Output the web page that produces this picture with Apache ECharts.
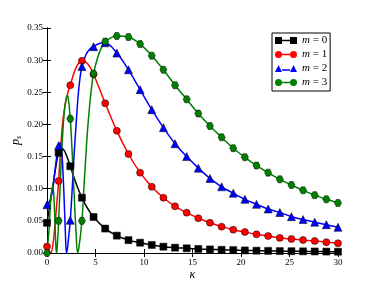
<!DOCTYPE html>
<html>
<head>
<meta charset="utf-8">
<script src="https://cdn.jsdelivr.net/npm/echarts@6/dist/echarts.min.js"></script>
<style>html,body{margin:0;padding:0;background:#fff;}#c{width:376px;height:282px;}</style>
</head>
<body>
<div id="c"></div>
<script>
// Marker positions (kappa)
var markerK = [0, 1.2, 2.4, 3.6, 4.8, 6.0, 7.2, 8.4, 9.6, 10.8, 12.0, 13.2, 14.4, 15.6, 16.8, 18.0, 19.2, 20.4, 21.6, 22.8, 24.0, 25.2, 26.4, 27.6, 28.8, 30.0];
// Marker values
var m0Marks = [0.047, 0.156, 0.135, 0.086, 0.056, 0.038, 0.027, 0.020, 0.016, 0.0125, 0.0098, 0.0083, 0.0073, 0.0063, 0.0056, 0.0050, 0.0045, 0.0040, 0.0036, 0.0033, 0.0030, 0.0028, 0.0026, 0.0024, 0.0022, 0.0020];
var m1Marks = [0.010, 0.112, 0.261, 0.299, 0.278, 0.233, 0.190, 0.154, 0.125, 0.103, 0.086, 0.0726, 0.0628, 0.054, 0.047, 0.041, 0.0363, 0.0327, 0.029, 0.0264, 0.0235, 0.0218, 0.0202, 0.0187, 0.0168, 0.0152];
var m2Marks = [0.075, 0.167, 0.051, 0.290, 0.321, 0.327, 0.311, 0.285, 0.254, 0.223, 0.195, 0.170, 0.150, 0.132, 0.116, 0.103, 0.093, 0.0835, 0.0757, 0.0684, 0.063, 0.0565, 0.052, 0.048, 0.044, 0.040];
var m3Marks = [0.000, 0.050, 0.209, 0.050, 0.279, 0.329, 0.3375, 0.336, 0.325, 0.307, 0.285, 0.261, 0.239, 0.217, 0.1975, 0.180, 0.163, 0.149, 0.136, 0.125, 0.1146, 0.1058, 0.0975, 0.090, 0.0835, 0.0778];
// Curve detail at small kappa (oscillating region)
var m0Fine = [[0,0.047],[0.3,0.075],[0.6,0.104],[0.9,0.133],[1.2,0.156],[1.5,0.163],[1.8,0.159],[2.1,0.148],[2.4,0.135],[3.0,0.108],[3.6,0.086],[4.2,0.069],[4.8,0.056]];
var m1Fine = [[0,0.010],[0.2,0.004],[0.4,0.0],[0.6,0.012],[0.8,0.040],[1.0,0.075],[1.2,0.112],[1.4,0.162],[1.6,0.200],[1.8,0.224],[2.0,0.240],[2.2,0.252],[2.4,0.261],[2.8,0.281],[3.2,0.294],[3.6,0.299],[4.0,0.297],[4.4,0.290],[4.8,0.278]];
var m2Fine = [[0,0.075],[0.2,0.079],[0.4,0.086],[0.6,0.100],[0.8,0.125],[1.0,0.150],[1.2,0.167],[1.35,0.171],[1.5,0.162],[1.65,0.125],[1.8,0.070],[1.9,0.030],[2.0,0.0],[2.1,0.006],[2.2,0.020],[2.4,0.051],[2.6,0.100],[2.8,0.155],[3.0,0.200],[3.2,0.243],[3.4,0.272],[3.6,0.290],[4.0,0.308],[4.4,0.317],[4.8,0.321],[5.4,0.326]];
var m3Fine = [[0,0.0],[0.2,0.035],[0.4,0.085],[0.6,0.105],[0.75,0.075],[0.9,0.015],[0.97,0.0],[1.05,0.008],[1.2,0.050],[1.4,0.120],[1.6,0.180],[1.8,0.222],[2.0,0.242],[2.1,0.245],[2.2,0.240],[2.4,0.209],[2.6,0.155],[2.8,0.090],[3.0,0.030],[3.15,0.0],[3.3,0.010],[3.6,0.050],[3.8,0.100],[4.0,0.150],[4.2,0.195],[4.5,0.245],[4.8,0.279],[5.2,0.303],[5.6,0.319]];
var xTicks = [0, 5, 10, 15, 20, 25, 30];
var yTicks = [0, 0.05, 0.10, 0.15, 0.20, 0.25, 0.30, 0.35];
var names = ['m0', 'm1', 'm2', 'm3'];
var labels = {m0: '{i|m} = 0', m1: '{i|m} = 1', m2: '{i|m} = 2', m3: '{i|m} = 3'};
var colors = ['#000000', '#ff0000', '#0000ff', '#008000'];
var symbols = ['rect', 'circle', 'triangle', 'path://M2,0L6,0L8,3.5L6,7L2,7L0,3.5Z'];
var symSizes = [7, 7, 8, 7];
var icons = [
  'path://M0,0h7v7h-7zM7,2.8h8v1.4h-8zM15,0h7v7h-7z',
  'path://M0,3.5a3.5,3.5 0 1,0 7,0a3.5,3.5 0 1,0 -7,0zM7,2.8h8v1.4h-8zM15,3.5a3.5,3.5 0 1,0 7,0a3.5,3.5 0 1,0 -7,0z',
  'path://M3.5,0L7,7L0,7zM7,4.3h8v1.4h-8zM18.5,0L22,7L15,7z',
  'path://M0,3.5a3.5,3.5 0 1,0 7,0a3.5,3.5 0 1,0 -7,0zM7,2.8h8v1.4h-8zM15,3.5a3.5,3.5 0 1,0 7,0a3.5,3.5 0 1,0 -7,0z'
];
var marks = [m0Marks, m1Marks, m2Marks, m3Marks];
var fines = [m0Fine, m1Fine, m2Fine, m3Fine];

function curve(fine, mk) {
  var last = fine[fine.length - 1][0];
  var out = fine.slice();
  for (var i = 0; i < markerK.length; i++) {
    if (markerK[i] > last + 1e-9) out.push([markerK[i], mk[i]]);
  }
  return out;
}
function markerData(mk) {
  return markerK.map(function (k, i) { return [k, mk[i]]; });
}

var series = [];
for (var s = 0; s < 4; s++) {
  series.push({
    name: names[s], type: 'line', data: curve(fines[s], marks[s]),
    smooth: 0.35, showSymbol: false, symbol: 'none',
    lineStyle: {color: colors[s], width: 1.5},
    itemStyle: {color: colors[s]}, z: 2 + s, silent: true
  });
}
for (var s2 = 0; s2 < 4; s2++) {
  series.push({
    name: names[s2], type: 'scatter', data: markerData(marks[s2]),
    symbol: symbols[s2], symbolSize: symSizes[s2],
    itemStyle: {color: colors[s2], borderColor: '#000', borderWidth: 0.5, opacity: 1},
    z: 10 + s2, silent: true
  });
}

var font = 'Liberation Serif';
var chart = echarts.init(document.getElementById('c'), null, {renderer: 'canvas'});
chart.setOption({
  animation: false,
  backgroundColor: '#ffffff',
  grid: {left: 47, right: 38, top: 28, bottom: 29, containLabel: false, outerBoundsMode: 'none'},
  legend: {
    orient: 'vertical', left: 272, top: 33,
    padding: [2, 3, 3, 3], itemGap: 3, itemWidth: 22, itemHeight: 7,
    backgroundColor: '#ffffff', borderColor: '#000000', borderWidth: 1, borderRadius: 0,
    data: names.map(function (n, i) { return {name: n, icon: icons[i]}; }),
    formatter: function (n) { return labels[n]; },
    textStyle: {fontFamily: font, fontSize: 11, lineHeight: 11, color: '#000',
      rich: {i: {fontFamily: font, fontStyle: 'italic', fontSize: 11, lineHeight: 11, color: '#000'}}},
    selectedMode: false
  },
  xAxis: [{
    type: 'value', min: xTicks[0], max: xTicks[xTicks.length - 1], interval: 5,
    name: 'κ', nameLocation: 'middle', nameGap: 16, nameMoveOverlap: false,
    nameTextStyle: {fontFamily: font, fontStyle: 'italic', fontSize: 12, color: '#000'},
    axisLine: {show: true, lineStyle: {color: '#000', width: 1}},
    axisTick: {show: true, inside: true, length: 4, lineStyle: {color: '#000'}},
    axisLabel: {fontFamily: font, fontSize: 9, color: '#000', margin: 5},
    splitLine: {show: false}
  }, {
    type: 'value', position: 'top', min: 0, max: 30, interval: 5,
    axisLine: {show: true, lineStyle: {color: '#000', width: 1}},
    axisTick: {show: true, inside: true, length: 4, lineStyle: {color: '#000'}},
    axisLabel: {show: false}, splitLine: {show: false}
  }],
  yAxis: [{
    type: 'value', min: yTicks[0], max: yTicks[yTicks.length - 1], interval: 0.05,
    name: '{p|p}{s|s}', nameLocation: 'middle', nameGap: 24, nameRotate: 90, nameMoveOverlap: false,
    nameTextStyle: {rich: {
      p: {fontFamily: font, fontStyle: 'italic', fontSize: 12, color: '#000'},
      s: {fontFamily: font, fontStyle: 'italic', fontSize: 8, color: '#000', verticalAlign: 'bottom', padding: [6, 0, 0, 0]}
    }},
    axisLine: {show: true, lineStyle: {color: '#000', width: 1}},
    axisTick: {show: true, inside: true, length: 4, lineStyle: {color: '#000'}},
    axisLabel: {fontFamily: font, fontSize: 9, color: '#000', margin: 4,
      formatter: function (v) { return v.toFixed(2); }},
    splitLine: {show: false}
  }, {
    type: 'value', position: 'right', min: 0, max: 0.35, interval: 0.05,
    axisLine: {show: true, lineStyle: {color: '#000', width: 1}},
    axisTick: {show: true, inside: true, length: 4, lineStyle: {color: '#000'}},
    axisLabel: {show: false}, splitLine: {show: false}
  }],
  series: series
});
</script>
</body>
</html>
